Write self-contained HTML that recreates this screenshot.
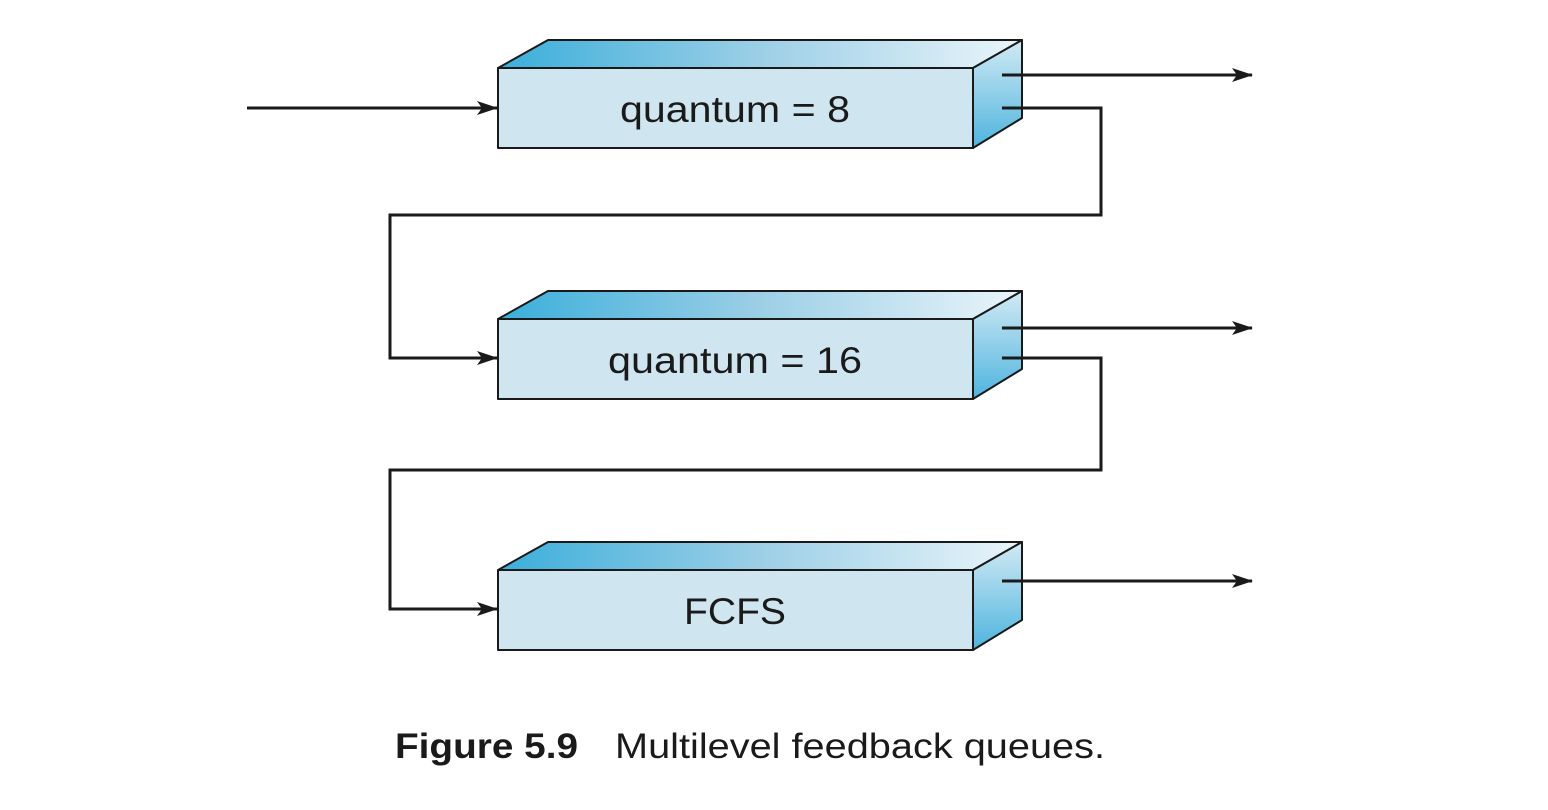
<!DOCTYPE html>
<html><head><style>body{margin:0;background:#fff}svg{display:block}</style></head><body>
<svg width="1548" height="810" viewBox="0 0 1548 810" xmlns="http://www.w3.org/2000/svg">
<defs>
<linearGradient id="top" x1="0" y1="0" x2="1" y2="0"><stop offset="0" stop-color="#3aaedb"/><stop offset="0.5" stop-color="#9ccfe6"/><stop offset="1" stop-color="#eaf5fa"/></linearGradient>
<linearGradient id="side" x1="0" y1="0" x2="0" y2="1"><stop offset="0" stop-color="#d2eaf4"/><stop offset="1" stop-color="#4db4de"/></linearGradient>
<marker id="a" markerWidth="22" markerHeight="16" refX="20" refY="8" orient="auto" markerUnits="userSpaceOnUse" viewBox="0 0 22 16"><path d="M0,1 L21,8 L0,15 L5,8z" fill="#1a1a1a"/></marker>
<g id="box" stroke="#1a1a1a" stroke-width="2" stroke-linejoin="round">
<polygon points="498,68 548,40 1022,40 973,68" fill="url(#top)"/>
<polygon points="973,68 1022,40 1022,118 973,148" fill="url(#side)"/>
<rect x="498" y="68" width="475" height="80" fill="#cfe6f0"/>
</g>
</defs>
<use href="#box"/>
<use href="#box" y="251"/>
<use href="#box" y="502"/>
<g fill="none" stroke="#1a1a1a" stroke-width="3">
<path d="M247,108 H497" marker-end="url(#a)"/>
<path d="M1002,75 H1252" marker-end="url(#a)"/>
<path d="M1002,108 H1101 V215 H390 V358 H497" marker-end="url(#a)"/>
<path d="M1002,328 H1252" marker-end="url(#a)"/>
<path d="M1002,358 H1101 V470 H390 V609 H497" marker-end="url(#a)"/>
<path d="M1002,581 H1252" marker-end="url(#a)"/>
</g>
<g font-family="Liberation Sans, sans-serif" font-size="37" fill="#1a1a1a" lengthAdjust="spacingAndGlyphs">
<text x="620" y="122" textLength="230" lengthAdjust="spacingAndGlyphs">quantum = 8</text>
<text x="608" y="373" textLength="254" lengthAdjust="spacingAndGlyphs">quantum = 16</text>
<text x="684" y="624" textLength="102" lengthAdjust="spacingAndGlyphs">FCFS</text>
</g>
<g font-family="Liberation Sans, sans-serif" font-size="35" fill="#1a1a1a">
<text x="395" y="758" font-weight="bold" textLength="183" lengthAdjust="spacingAndGlyphs">Figure 5.9</text>
<text x="615" y="758" textLength="490" lengthAdjust="spacingAndGlyphs">Multilevel feedback queues.</text>
</g>
</svg>
</body></html>
